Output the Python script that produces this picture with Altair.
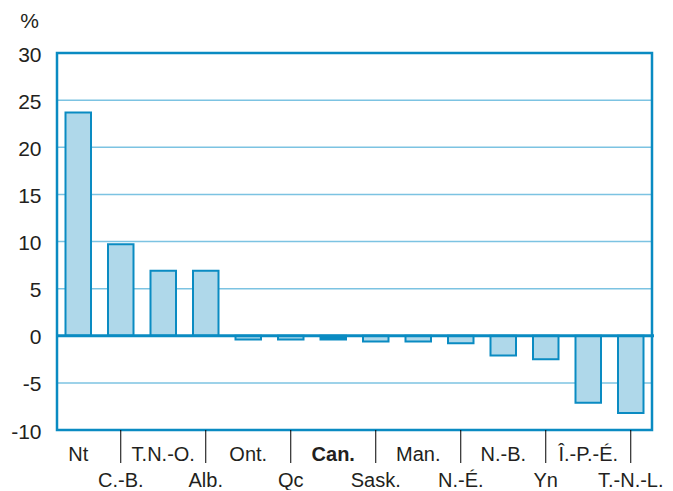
import altair as alt
import pandas as pd

categories = ["Nt", "C.-B.", "T.N.-O.", "Alb.", "Ont.", "Qc", "Can.", "Sask.",
              "Man.", "N.-É.", "N.-B.", "Yn", "Î.-P.-É.", "T.-N.-L."]
values = [23.7, 9.7, 6.9, 6.9, -0.4, -0.4, -0.4, -0.6, -0.6, -0.8, -2.1, -2.5, -7.1, -8.2]
y_ticks = [-10, -5, 0, 5, 10, 15, 20, 25, 30]
grid_values = [-5, 5, 10, 15, 20, 25]

df = pd.DataFrame({
    "cat": categories,
    "val": values,
    "idx": list(range(len(categories))),
})
df["row"] = df["idx"] % 2

FONT = "Liberation Sans, Arial, sans-serif"
TXT = "#231f20"
FRAME = "#0a8bc2"
GRID = "#7cc3e2"
FILL = "#afd8ea"

W, H = 595, 377

xsc = alt.Scale(domain=categories, paddingInner=0.4, paddingOuter=0.2)
ysc = alt.Scale(domain=[-10, 30], nice=False, zero=False)
yaxis = alt.Axis(values=y_ticks, grid=False, domain=False, ticks=False,
                 labelExpr="datum.value < 0 ? '-' + abs(datum.value) : '' + datum.value",
                 labelFont=FONT, labelFontSize=21, labelColor=TXT,
                 labelPadding=16, labelBaseline="middle", labelOffset=2,
                 labelBound=False, labelFlush=False,
                 title="%", titleAngle=0, titleFont=FONT, titleFontSize=21,
                 titleFontWeight="normal", titleColor=TXT, titleAlign="center",
                 titleBaseline="alphabetic", titleX=-28, titleY=-26)

base = alt.Chart(df)

grid = alt.Chart(pd.DataFrame({"g": grid_values})).mark_rule(color=GRID, strokeWidth=1.5).encode(
    y=alt.Y("g:Q", scale=ysc, axis=yaxis),
    x=alt.value(0), x2=alt.value(W),
)

bars = base.mark_bar(stroke=FRAME, strokeWidth=2).encode(
    x=alt.X("cat:N", scale=xsc, sort=categories, axis=None),
    y=alt.Y("val:Q", scale=ysc, axis=yaxis),
    y2=alt.datum(0),
    fill=alt.condition("datum.cat == 'Can.'", alt.value(FRAME), alt.value(FILL)),
)

zero = alt.Chart(pd.DataFrame({"z": [0]})).mark_rule(color=FRAME, strokeWidth=3).encode(
    y=alt.Y("z:Q", scale=ysc, axis=yaxis),
    x=alt.value(-1), x2=alt.value(W + 2),
)

frame = alt.Chart(pd.DataFrame({"f": [0]})).mark_rect(
    fillOpacity=0, stroke=FRAME, strokeWidth=2.5
).encode(
    x=alt.value(0), x2=alt.value(W), y=alt.value(0), y2=alt.value(H),
)

ticks = base.transform_filter("datum.row == 1").mark_rule(color="#000000", strokeWidth=1).encode(
    x=alt.X("cat:N", scale=xsc, sort=categories, axis=None),
    y=alt.value(H), y2=alt.value(H + 33),
)

lab1 = base.transform_filter("datum.row == 0 && datum.cat != 'Can.'").mark_text(
    font=FONT, fontSize=20, color=TXT, baseline="alphabetic", align="center"
).encode(
    x=alt.X("cat:N", scale=xsc, sort=categories, axis=None),
    y=alt.value(H + 31),
    text="cat:N",
)

lab_bold = base.transform_filter("datum.cat == 'Can.'").mark_text(
    font=FONT, fontSize=20, color=TXT, baseline="alphabetic", align="center",
    fontWeight="bold"
).encode(
    x=alt.X("cat:N", scale=xsc, sort=categories, axis=None),
    y=alt.value(H + 31),
    text="cat:N",
)

lab2 = base.transform_filter("datum.row == 1").mark_text(
    font=FONT, fontSize=20, color=TXT, baseline="alphabetic", align="center"
).encode(
    x=alt.X("cat:N", scale=xsc, sort=categories, axis=None),
    y=alt.value(H + 57),
    text="cat:N",
)

chart = alt.layer(grid, bars, zero, frame, ticks, lab1, lab_bold, lab2).properties(
    width=W, height=H,
    autosize=alt.AutoSizeParams(type="none"),
    padding={"left": 49, "top": 45, "right": 13, "bottom": 60},
).configure(background="white").configure_view(stroke=None)

chart.save("out.html", embed_options={"renderer": "svg", "actions": False})
